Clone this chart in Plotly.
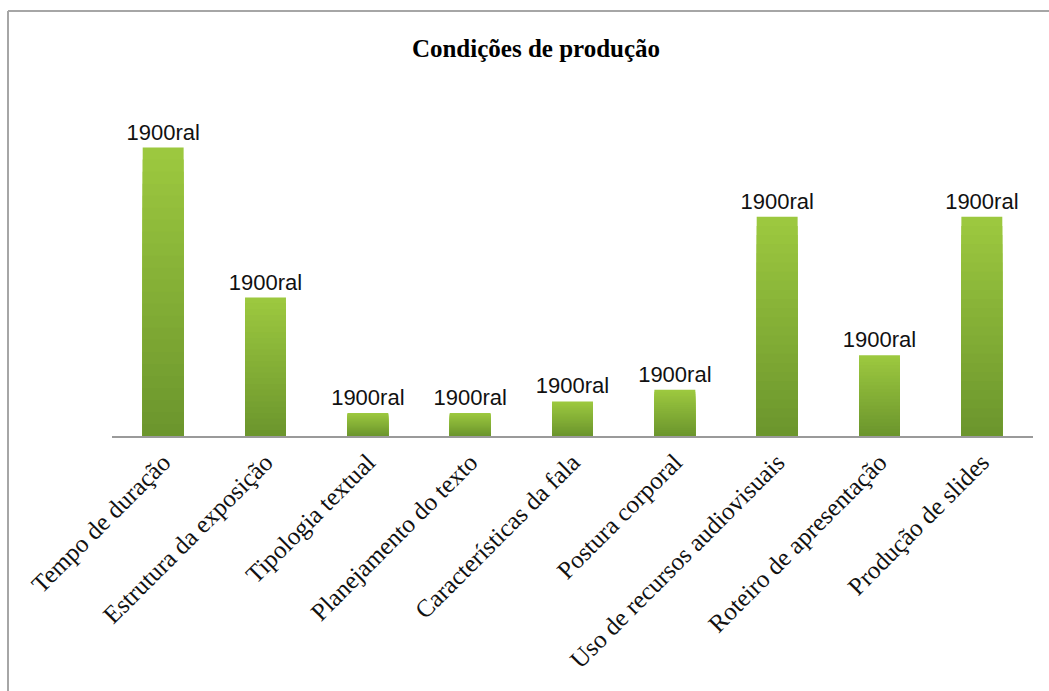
import plotly.graph_objects as go

# Categories and counts
categories = [
    "Tempo de duração",
    "Estrutura da exposição",
    "Tipologia textual",
    "Planejamento do texto",
    "Características da fala",
    "Postura corporal",
    "Uso de recursos audiovisuais",
    "Roteiro de apresentação",
    "Produção de slides",
]
values = [25, 12, 2, 2, 3, 4, 19, 7, 19]
bar_labels = ["1900ral"] * len(values)

W, H = 1049, 691
ML, MR, MT, MB = 112, 16, 113, 255
Y_MAX = 28

fig = go.Figure()

# Vertical gradient on each bar: stacked overlays, light green at top, darker at the base
top_rgb = (0x9C, 0xC8, 0x3F)
bot_rgb = (0x6C, 0x96, 0x2D)
steps = 24
for k in range(steps):
    frac = 1 - k / steps
    t = k / (steps - 1)
    r, g, b = (round(top_rgb[i] + (bot_rgb[i] - top_rgb[i]) * t) for i in range(3))
    fig.add_trace(go.Bar(
        x=categories,
        y=[v * frac for v in values],
        marker=dict(color=f"rgb({r},{g},{b})", line=dict(width=0)),
        hoverinfo="skip",
        showlegend=False,
    ))

# Value labels above the bars
fig.add_trace(go.Bar(
    x=categories,
    y=values,
    marker=dict(color="rgba(0,0,0,0)", line=dict(width=0)),
    text=bar_labels,
    textposition="outside",
    constraintext="none",
    textfont=dict(family="Liberation Sans, Arial", size=22, color="#111111"),
    cliponaxis=False,
    hoverinfo="skip",
    showlegend=False,
))

# Outer frame (top and left edges)
pw = W - ML - MR
ph = H - MT - MB
x_left = (8 - ML) / pw
y_top = (H - MB - 11) / ph
fig.add_shape(type="line", xref="paper", yref="paper",
              x0=x_left, x1=(W - ML) / pw, y0=y_top, y1=y_top,
              line=dict(color="#a6a6a6", width=2))
fig.add_shape(type="line", xref="paper", yref="paper",
              x0=x_left, x1=x_left, y0=y_top, y1=-MB / ph,
              line=dict(color="#a6a6a6", width=2))

fig.update_layout(
    width=W, height=H,
    margin=dict(l=ML, r=MR, t=MT, b=MB),
    paper_bgcolor="white",
    plot_bgcolor="white",
    barmode="overlay",
    bargap=0.6,
    title=dict(
        text="<b>Condições de produção</b>",
        x=(536 - ML) / pw, xref="paper", xanchor="center",
        y=1 - 48 / H, yref="container", yanchor="middle",
        font=dict(family="Liberation Serif, Times New Roman", size=25, color="#000000"),
    ),
    xaxis=dict(
        showline=True, linecolor="#9a9a9a", linewidth=1.5,
        ticks="", tickangle=-45,
        tickfont=dict(family="Liberation Serif, Times New Roman", size=25, color="#111111"),
        showgrid=False,
    ),
    yaxis=dict(
        range=[0, Y_MAX], visible=False, showgrid=False, zeroline=False,
    ),
)

fig.write_html("out.html")
